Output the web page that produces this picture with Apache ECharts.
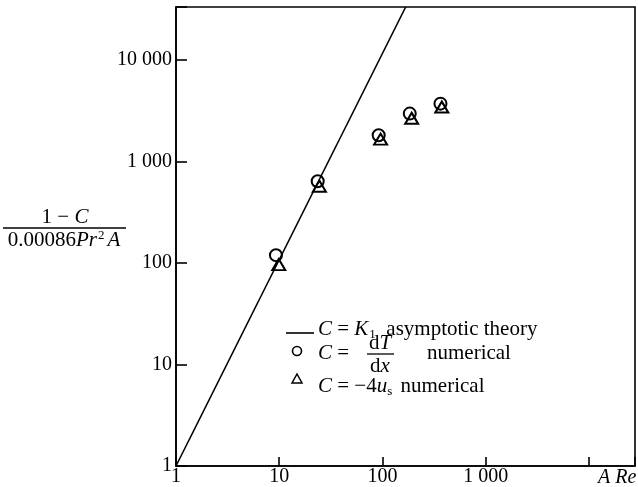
<!DOCTYPE html>
<html>
<head>
<meta charset="utf-8">
<script src="https://cdn.jsdelivr.net/npm/echarts@6/dist/echarts.min.js"></script>
<style>
  html, body { margin: 0; padding: 0; background: #fff; }
  #chart { width: 638px; height: 487px; }
</style>
</head>
<body>
<div id="chart"></div>
<script>
// Axis extents and tick labels (log scales)
const xMin = 1, xMax = 28000;
const yMin = 1, yMax = 33000;
const xTicks = [1, 10, 100, 1000, 10000];
const xTickLabels = ['1', '10', '100', '1 000', ''];
const yTicks = [1, 10, 100, 1000, 10000];
const yTickLabels = ['1', '10', '100', '1 000', '10 000'];

// Asymptotic theory line C = K1
const theoryX = [1, 168];
const theoryY = [1, 33000];

// Numerical results, C = dT/dx
const circleX = [9.3, 23.6, 92, 184, 365];
const circleY = [119, 635, 1806, 2944, 3690];

// Numerical results, C = -4 u_s
const triangleX = [9.9, 24.5, 96, 192, 376];
const triangleY = [96, 568, 1649, 2650, 3420];

const FONT = '"Liberation Serif", "DejaVu Serif", serif';
const INK = '#000';
const TICK_FS = 20;
const TEXT_FS = 21;

function pairs(xs, ys) { return xs.map((x, i) => [x, ys[i]]); }
function tickLabel(ticks, labels) {
  return function (v) {
    for (let i = 0; i < ticks.length; i++) {
      if (Math.abs(Math.log10(v) - Math.log10(ticks[i])) < 1e-6) return labels[i];
    }
    return '';
  };
}

const italic = { fontStyle: 'italic', fontFamily: FONT, fontSize: TEXT_FS, fill: INK, color: INK };
const small = (pad) => ({ fontFamily: FONT, fontSize: 13, fill: INK, color: INK, padding: pad });
const textStyle = (extra) => Object.assign({ fontFamily: FONT, fontSize: TEXT_FS, fill: INK, verticalAlign: 'middle' }, extra);

const chart = echarts.init(document.getElementById('chart'));
chart.setOption({
  animation: false,
  backgroundColor: '#fff',
  grid: { left: 176, right: 3, top: 7, bottom: 18.5, show: true, borderColor: INK, borderWidth: 1.6 },
  xAxis: {
    type: 'log', logBase: 10, min: xMin, max: xMax,
    axisLine: { lineStyle: { color: INK, width: 1.6 } },
    axisTick: { inside: true, length: 9, lineStyle: { color: INK, width: 1.6 } },
    axisLabel: { formatter: tickLabel(xTicks, xTickLabels), margin: 1, color: INK, fontFamily: FONT, fontSize: TICK_FS },
    splitLine: { show: false }
  },
  yAxis: {
    type: 'log', logBase: 10, min: yMin, max: yMax,
    axisLine: { lineStyle: { color: INK, width: 1.6 } },
    axisTick: { inside: true, length: 11, lineStyle: { color: INK, width: 1.6 } },
    axisLabel: { formatter: tickLabel(yTicks, yTickLabels), margin: 4, color: INK, fontFamily: FONT, fontSize: TICK_FS },
    splitLine: { show: false }
  },
  series: [
    {
      name: 'asymptotic theory', type: 'line', data: pairs(theoryX, theoryY),
      symbol: 'none', clip: true,
      lineStyle: { color: INK, width: 1.6 }
    },
    {
      name: 'dT/dx numerical', type: 'scatter', data: pairs(circleX, circleY),
      symbol: 'circle', symbolSize: 12,
      itemStyle: { color: 'rgba(0,0,0,0)', borderColor: INK, borderWidth: 2, opacity: 1 }
    },
    {
      name: '-4us numerical', type: 'scatter', data: pairs(triangleX, triangleY),
      symbol: 'triangle', symbolSize: [13, 11],
      itemStyle: { color: 'rgba(0,0,0,0)', borderColor: INK, borderWidth: 2, opacity: 1 }
    }
  ],
  graphic: [
    // y-axis title as a stacked fraction
    { type: 'text', x: 65, y: 217, style: textStyle({ text: '1 \u2212 {i|C}', rich: { i: italic }, align: 'center' }) },
    { type: 'line', shape: { x1: 3, y1: 228, x2: 126, y2: 228 }, style: { stroke: INK, lineWidth: 1.4 } },
    { type: 'text', x: 64, y: 240, style: textStyle({ text: '0.00086{i|Pr}{sup|2}{i|A}', rich: { i: italic, sup: small([0, 3, 9, 1]) }, align: 'center' }) },
    // x-axis title at the end of the axis
    { type: 'text', x: 598, y: 478, style: textStyle({ text: 'A Re', fontStyle: 'italic', fontSize: TICK_FS, align: 'left' }) },
    // key
    { type: 'line', shape: { x1: 286, y1: 333, x2: 314, y2: 333 }, style: { stroke: INK, lineWidth: 1.6 } },
    { type: 'text', x: 318, y: 329, style: textStyle({ text: '{i|C} = {i|K}{sub|1}  asymptotic theory', rich: { i: italic, sub: small([11, 0, 0, 1]) }, align: 'left' }) },
    { type: 'circle', shape: { cx: 297, cy: 351, r: 4.5 }, style: { fill: 'none', stroke: INK, lineWidth: 1.6 } },
    { type: 'text', x: 318, y: 353, style: textStyle({ text: '{i|C} =', rich: { i: italic }, align: 'left' }) },
    { type: 'text', x: 380, y: 343, style: textStyle({ text: 'd{i|T}', rich: { i: italic }, align: 'center' }) },
    { type: 'line', shape: { x1: 367, y1: 354, x2: 394, y2: 354 }, style: { stroke: INK, lineWidth: 1.3 } },
    { type: 'text', x: 380, y: 366, style: textStyle({ text: 'd{i|x}', rich: { i: italic }, align: 'center' }) },
    { type: 'text', x: 427, y: 353, style: textStyle({ text: 'numerical', align: 'left' }) },
    { type: 'polygon', shape: { points: [[297, 374], [302, 383], [292, 383]] }, style: { fill: 'none', stroke: INK, lineWidth: 1.5 } },
    { type: 'text', x: 318, y: 386, style: textStyle({ text: '{i|C} = \u22124{i|u}{sub|s} numerical', rich: { i: italic, sub: small([11, 3, 0, 0]) }, align: 'left' }) }
  ]
});
</script>
</body>
</html>
